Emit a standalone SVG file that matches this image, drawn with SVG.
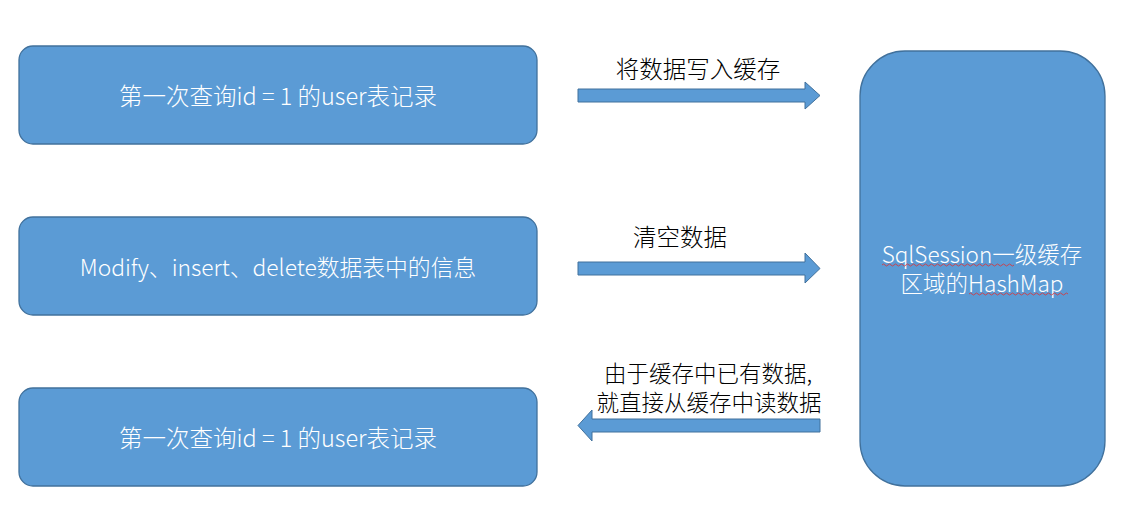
<svg xmlns="http://www.w3.org/2000/svg" width="1146" height="525" viewBox="0 0 1146 525">
<style>
.box{fill:#5B9BD5;stroke:#41719C;stroke-width:1.3}
.arrow{fill:#5B9BD5;stroke:#41719C;stroke-width:1}
.wt{fill:#ffffff;font-family:"Noto Sans CJK SC","Noto Sans",sans-serif;font-size:23.5px;font-weight:300;text-anchor:middle}
.bt{fill:#000000;font-family:"Noto Sans CJK SC","Noto Sans",sans-serif;font-size:23.5px;font-weight:300;text-anchor:middle}
.sq{fill:none;stroke:#E03030;stroke-width:0.8}
</style>
<rect width="1146" height="525" fill="#ffffff"/>
<g id="node-query1">
<rect class="box" x="19" y="46" width="518" height="98" rx="14"/>
<text class="wt" x="278" y="105">第一次查询id = 1 的user表记录</text>
</g>
<g id="node-modify">
<rect class="box" x="19" y="217" width="518" height="98" rx="14"/>
<text class="wt" x="278" y="276" style="font-size:22.8px">Modify、insert、delete数据表中的信息</text>
</g>
<g id="node-query2">
<rect class="box" x="19" y="388" width="518" height="98" rx="14"/>
<text class="wt" x="278" y="447">第一次查询id = 1 的user表记录</text>
</g>
<g id="node-cache">
<rect class="box" x="860" y="51" width="245" height="435" rx="45"/>
<text class="wt" x="982" y="263" style="font-size:22.5px"><tspan x="982" y="263">SqlSession一级缓存</tspan><tspan x="982" y="292">区域的HashMap</tspan></text>
<path class="sq" d="M882 265 q1.5 -2 3 0 t3 0 t3 0 t3 0 t3 0 t3 0 t3 0 t3 0 t3 0 t3 0 t3 0 t3 0 t3 0 t3 0 t3 0 t3 0 t3 0 t3 0 t3 0 t3 0 t3 0 t3 0 t3 0 t3 0 t3 0 t3 0 t3 0 t3 0 t3 0 t3 0 t3 0 t3 0 t3 0 t3 0 t3 0 t3 0 t3 0 t3 0 t3 0 t3 0 t3 0 t3 0 t3 0 t3 0"/>
<path class="sq" d="M969 294 q1.5 -2 3 0 t3 0 t3 0 t3 0 t3 0 t3 0 t3 0 t3 0 t3 0 t3 0 t3 0 t3 0 t3 0 t3 0 t3 0 t3 0 t3 0 t3 0 t3 0 t3 0 t3 0 t3 0 t3 0 t3 0 t3 0 t3 0 t3 0 t3 0 t3 0 t3 0 t3 0 t3 0 t3 0"/>
</g>
<g id="connectors">
<g id="edge-write">
<path class="arrow" d="M578 89 H805 V82 L820 95.5 L805 109 V102 H578 Z"/>
<text class="bt" x="698" y="78">将数据写入缓存</text>
</g>
<g id="edge-clear">
<path class="arrow" d="M578 262 H805 V253 L820 268.5 L805 283 V275 H578 Z"/>
<text class="bt" x="680" y="246">清空数据</text>
</g>
<g id="edge-read">
<path class="arrow" d="M820 419 H592 V410 L578 425.5 L592 441 V432 H820 Z"/>
<text class="bt" style="font-size:22.5px"><tspan x="708" y="382">由于缓存中已有数据,</tspan><tspan x="709" y="411">就直接从缓存中读数据</tspan></text>
</g>
</g>
</svg>
